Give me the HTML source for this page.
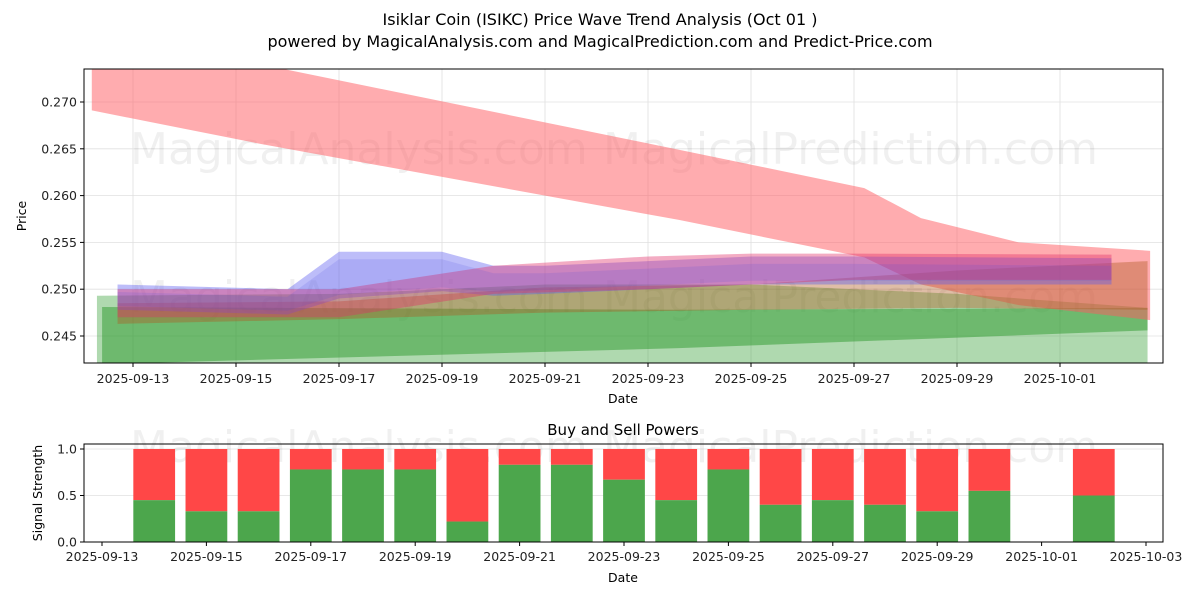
<!DOCTYPE html>
<html><head><meta charset="utf-8"><style>
body{margin:0;background:#fff;font-family:"Liberation Sans","DejaVu Sans",sans-serif;}
svg text{font-family:"DejaVu Sans","Liberation Sans",sans-serif;}
</style></head><body>
<svg id="c" width="1200" height="600" xmlns="http://www.w3.org/2000/svg">
<rect width="1200" height="600" fill="#fff"/>
<text x="600" y="25" font-size="16" text-anchor="middle">Isiklar Coin (ISIKC) Price Wave Trend Analysis (Oct 01 )</text>
<text x="600" y="47" font-size="16" text-anchor="middle">powered by MagicalAnalysis.com and MagicalPrediction.com and Predict-Price.com</text>
<defs><clipPath id="cp1"><rect x="84" y="69" width="1079" height="294"/></clipPath></defs>
<g id="main"></g>
<g id="bot"></g>
</svg>
<script>
// Main chart data (dates as days from 2025-09-13)
const redBigDays = [-0.8, 2.5, 10.6, 14.2, 15.3, 17.2, 19.75];
const redBigUpper = [0.2771, 0.2740, 0.2649, 0.2608, 0.2576, 0.2550, 0.2541];
const redBigLower = [0.2691, 0.2655, 0.2574, 0.2534, 0.2505, 0.2483, 0.2467];
const greenADays = [-0.7, 4, 8, 12, 16, 19.7];
const greenAUpper = [0.2493, 0.2495, 0.2505, 0.2505, 0.2495, 0.2480];
const greenALower = [0.2400, 0.2400, 0.2400, 0.2400, 0.2400, 0.2400];
const greenBDays = [-0.6, 10.6, 19.7];
const greenBUpper = [0.2481, 0.2478, 0.2480];
const greenBLower = [0.2420, 0.2437, 0.2456];
const blueDays = [-0.3, 3, 4, 6, 7, 8, 10, 12, 14, 19];
const blueUpper = [0.2505, 0.2500, 0.2540, 0.2540, 0.2525, 0.2525, 0.2530, 0.2535, 0.2535, 0.2533];
const blueLower = [0.2478, 0.2473, 0.2490, 0.2498, 0.2493, 0.2495, 0.2500, 0.2505, 0.2505, 0.2505];
const redSmDays = [-0.3, 4, 7, 10, 12, 14, 19];
const redSmUpper = [0.2500, 0.2500, 0.2525, 0.2535, 0.2538, 0.2538, 0.2537];
const redSmLower = [0.2470, 0.2470, 0.2495, 0.2500, 0.2505, 0.2510, 0.2510];
const orangeDays = [-0.3, 4, 8, 12, 16, 19.7];
const orangeUpper = [0.2485, 0.2487, 0.2502, 0.2505, 0.2520, 0.2530];
const orangeLower = [0.2463, 0.2468, 0.2475, 0.2478, 0.2480, 0.2478];
const yTicks = [0.245, 0.250, 0.255, 0.260, 0.265, 0.270];
const xTickDays = [0, 2, 4, 6, 8, 10, 12, 14, 16, 18];
const xTickLabels = ["2025-09-13","2025-09-15","2025-09-17","2025-09-19","2025-09-21","2025-09-23","2025-09-25","2025-09-27","2025-09-29","2025-10-01"];
// Bottom chart
const barDays = [1,2,3,4,5,6,7,8,9,10,11,12,13,14,15,16,17,19];
const buyVals = [0.45,0.33,0.33,0.78,0.78,0.78,0.22,0.83,0.83,0.67,0.45,0.78,0.40,0.45,0.40,0.33,0.55,0.50];
const bTickDays = [0,2,4,6,8,10,12,14,16,18,20];
const bTickLabels = ["2025-09-13","2025-09-15","2025-09-17","2025-09-19","2025-09-21","2025-09-23","2025-09-25","2025-09-27","2025-09-29","2025-10-01","2025-10-03"];
const bYTicks = [0, 0.5, 1.0];

const NS="http://www.w3.org/2000/svg";
function mk(tag, attrs, parent){const e=document.createElementNS(NS,tag);for(const k in attrs)e.setAttribute(k,attrs[k]);parent.appendChild(e);return e;}
const X=d=>133+51.5*d, Y=v=>102+(0.270-v)*9360;
const bX=d=>102+52.2*d, bY=v=>542-93*v;
const main=document.getElementById('main'), bot=document.getElementById('bot');

for(const t of yTicks){
  const l=mk('line',{x1:84,x2:1163,y1:Y(t),y2:Y(t),stroke:'#e0e0e0','stroke-width':0.8},main);
  
  
  const tx=mk('text',{x:77,y:Y(t)+4.5,'font-size':12.5,'text-anchor':'end',fill:'#222'},main);
  tx.textContent=t.toFixed(3);
  
  
  mk('line',{x1:80,x2:84,y1:Y(t),y2:Y(t),stroke:'#000'},main);
}
xTickDays.forEach((d,i)=>{
  const l=mk('line',{x1:X(d),x2:X(d),y1:69,y2:363,stroke:'#e0e0e0','stroke-width':0.8},main);
  
  
  mk('line',{x1:X(d),x2:X(d),y1:363,y2:367,stroke:'#000'},main);
  const tx=mk('text',{x:X(d),y:383,'font-size':12.5,'text-anchor':'middle',fill:'#222'},main);
  tx.textContent=xTickLabels[i];
  
  
});
function wm(x,y,s,parent){const t=mk('text',{x:x,y:y,'font-size':44,fill:'#000','fill-opacity':0.06},parent);t.textContent=s;
  
  }
wm(130,164,'MagicalAnalysis.com',main);wm(603,164,'MagicalPrediction.com',main);
wm(130,312,'MagicalAnalysis.com',main);wm(603,312,'MagicalPrediction.com',main);

const g=mk('g',{'clip-path':'url(#cp1)'},main);
function band(days,up,lo,color,op,name){
  let pts=days.map((d,i)=>X(d)+','+Y(up[i]));
  for(let i=days.length-1;i>=0;i--)pts.push(X(days[i])+','+Y(lo[i]));
  const p=mk('polygon',{points:pts.join(' '),fill:color,'fill-opacity':op},g);
  
  
}
band(greenADays,greenAUpper,greenALower,'#2e9a2e',0.38,'green-band-wide');
band(greenBDays,greenBUpper,greenBLower,'#2e9a2e',0.5,'green-band-inner');
band(redBigDays,redBigUpper,redBigLower,'#ff5a5f',0.5,'red-band-main');
band(orangeDays,orangeUpper,orangeLower,'#b05a20',0.4,'orange-band');
band(blueDays,blueUpper,blueLower,'#5a5af0',0.4,'blue-band');
band(redSmDays,redSmUpper,redSmLower,'#e0306a',0.4,'red-band-small');
band(blueDays,blueUpper.map((v,i)=>v-0.0008),blueLower.map((v,i)=>v+0.0004),'#4a4ae0',0.15,'blue-band-core');

mk('rect',{x:84,y:69,width:1079,height:294,fill:'none',stroke:'#000','stroke-width':1},main);
let t=mk('text',{x:623,y:403,'font-size':12.5,'text-anchor':'middle'},main);t.textContent='Date';

t=mk('text',{x:26,y:216,'font-size':12.5,'text-anchor':'middle',transform:'rotate(-90 26 216)'},main);t.textContent='Price';


t=mk('text',{x:623,y:435,'font-size':15,'text-anchor':'middle'},bot);t.textContent='Buy and Sell Powers';

for(const v of bYTicks){
  const l=mk('line',{x1:84,x2:1163,y1:bY(v),y2:bY(v),stroke:'#e0e0e0','stroke-width':0.8},bot);
  
  
  mk('line',{x1:80,x2:84,y1:bY(v),y2:bY(v),stroke:'#000'},bot);
  const tx=mk('text',{x:77,y:bY(v)+4.5,'font-size':12.5,'text-anchor':'end',fill:'#222'},bot);
  tx.textContent=v.toFixed(1);
  
  
}
bTickDays.forEach((d,i)=>{
  mk('line',{x1:bX(d),x2:bX(d),y1:542,y2:546,stroke:'#000'},bot);
  const tx=mk('text',{x:bX(d),y:561,'font-size':12.5,'text-anchor':'middle',fill:'#222'},bot);
  tx.textContent=bTickLabels[i];
  
  
});
wm(130,462,'MagicalAnalysis.com',bot);wm(603,462,'MagicalPrediction.com',bot);
barDays.forEach((d,i)=>{
  const w=52.2*0.8, x=bX(d)-w/2;
  const r=mk('rect',{x:x,y:bY(1),width:w,height:bY(buyVals[i])-bY(1),fill:'#ff4747'},bot);
  
  
  const gb=mk('rect',{x:x,y:bY(buyVals[i]),width:w,height:bY(0)-bY(buyVals[i]),fill:'#4ca64c'},bot);
  
  
});
mk('rect',{x:84,y:444,width:1079,height:98,fill:'none',stroke:'#000','stroke-width':1},bot);
t=mk('text',{x:623,y:582,'font-size':12.5,'text-anchor':'middle'},bot);t.textContent='Date';

t=mk('text',{x:42,y:493,'font-size':12.5,'text-anchor':'middle',transform:'rotate(-90 42 493)'},bot);t.textContent='Signal Strength';

</script>
</body></html>
